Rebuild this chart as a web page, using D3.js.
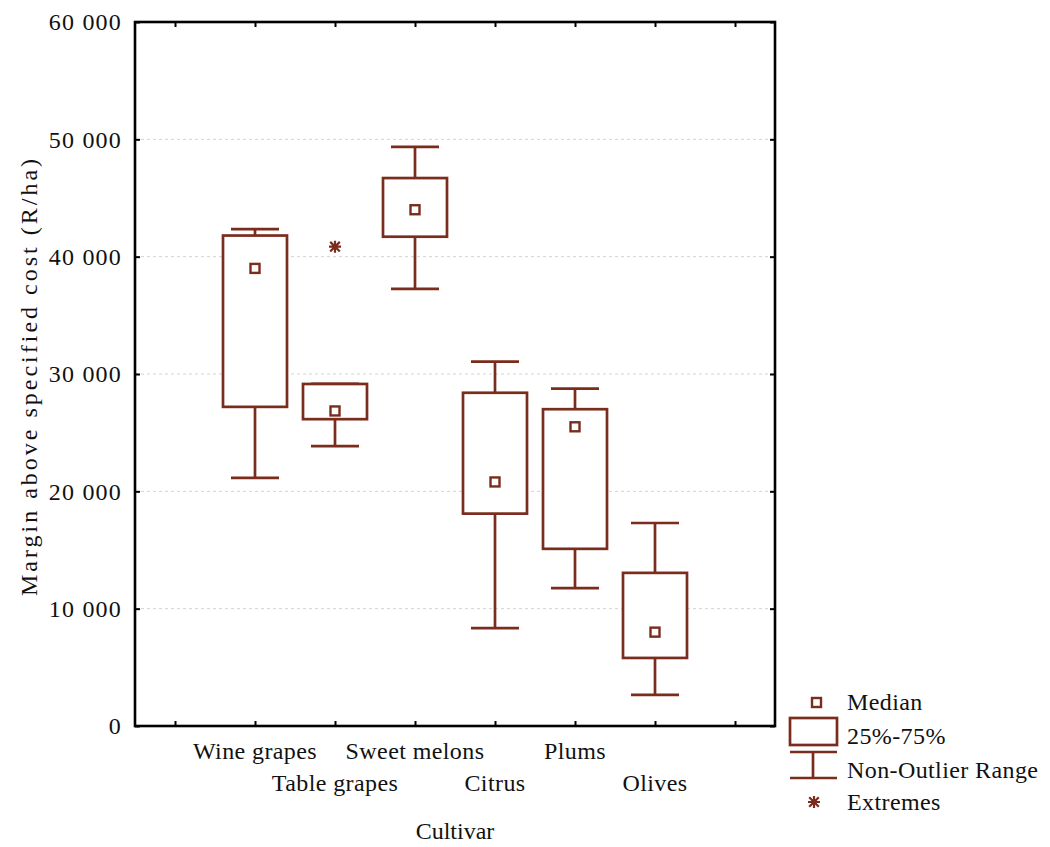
<!DOCTYPE html>
<html>
<head>
<meta charset="utf-8">
<script src="https://cdn.jsdelivr.net/npm/d3@7"></script>
<style>
  body { margin: 0; background: #ffffff; }
  text { font-family: "Liberation Serif", "Times New Roman", serif; fill: #111; }
</style>
</head>
<body>
<div id="boxchartdiv"></div>
<script>
// values (R/ha)
const cultivars = ["Wine grapes", "Table grapes", "Sweet melons", "Citrus", "Plums", "Olives"];
const medians     = [39000, 26850, 44000, 20800, 25500, 8000];
const q25         = [27200, 26150, 41700, 18100, 15100, 5800];
const q75         = [41800, 29150, 46700, 28400, 27000, 13050];
const whiskerLow  = [21150, 23850, 37250, 8350, 11750, 2650];
const whiskerHigh = [42350, 29150, 49350, 31050, 28750, 17300];
const extremes    = [{cultivar: "Table grapes", value: 40850}];
const yTicks      = [0, 10000, 20000, 30000, 40000, 50000, 60000];
const legendItems = ["Median", "25%-75%", "Non-Outlier Range", "Extremes"];

const boxColor = "#7a2c1d";
const W = 1050, H = 847;
let margin = {top: 22, left: 135, right: 275, bottom: 121};

let svg = d3.select("#boxchartdiv").append("svg")
            .attr("width", W)
            .attr("height", H);

// blank slot at each end, like the original axis
let slots = ["_start", ...cultivars, "_end"];
let x = d3.scalePoint()
          .domain(slots)
          .range([margin.left, W - margin.right])
          .padding(0.5);

let y = d3.scaleLinear()
          .domain([0, 60000])
          .range([H - margin.bottom, margin.top]);

const fmt = d => d3.format(",")(d).replace(",", " ");

// grid lines
svg.append("g")
   .selectAll("line")
   .data(yTicks.filter(d => d > 0 && d < 60000))
   .enter()
   .append("line")
   .attr("x1", margin.left)
   .attr("x2", W - margin.right)
   .attr("y1", d => y(d))
   .attr("y2", d => y(d))
   .attr("stroke", "#d2d2d2")
   .attr("stroke-width", 1)
   .attr("stroke-dasharray", "3,3");

// axes with inward ticks
let leftAxis = svg.append("g")
   .attr("transform", `translate(${margin.left},0)`)
   .call(d3.axisLeft(y).tickValues(yTicks).tickSize(-5).tickPadding(13).tickFormat(fmt));
leftAxis.selectAll("text")
   .style("font-size", "24px")
   .style("letter-spacing", "1.2px")
   .attr("dy", "0.33em");

svg.append("g")
   .attr("transform", `translate(${W - margin.right},0)`)
   .call(d3.axisRight(y).tickValues(yTicks).tickSize(-5).tickFormat(""));

svg.append("g")
   .attr("transform", `translate(0,${H - margin.bottom})`)
   .call(d3.axisBottom(x).tickSize(-5).tickFormat(""));

svg.append("g")
   .attr("transform", `translate(0,${margin.top})`)
   .call(d3.axisTop(x).tickSize(-5).tickFormat(""));

svg.selectAll(".domain").remove();
svg.selectAll(".tick line").attr("stroke", "#000").attr("stroke-width", 2);

// frame
svg.append("rect")
   .attr("x", margin.left)
   .attr("y", margin.top)
   .attr("width", W - margin.right - margin.left)
   .attr("height", H - margin.bottom - margin.top)
   .attr("fill", "none")
   .attr("stroke", "#000")
   .attr("stroke-width", 2.6);

// category labels, staggered on two rows
svg.append("g")
   .selectAll("text")
   .data(cultivars)
   .enter()
   .append("text")
   .attr("x", d => x(d))
   .attr("y", (d, i) => i % 2 == 0 ? 759 : 791)
   .attr("text-anchor", "middle")
   .style("font-size", "24px")
   .style("letter-spacing", "0.4px")
   .text(d => d);

// axis titles
svg.append("text")
   .attr("x", (margin.left + W - margin.right) / 2)
   .attr("y", 839)
   .attr("text-anchor", "middle")
   .style("font-size", "24px")
   .text("Cultivar");

svg.append("text")
   .attr("transform", `translate(37, ${(margin.top + H - margin.bottom) / 2 + 2}) rotate(-90)`)
   .attr("text-anchor", "middle")
   .style("font-size", "24px")
   .style("letter-spacing", "3px")
   .text("Margin above specified cost (R/ha)");

// boxes
let boxW = x.step() * 0.8;
let capW = x.step() * 0.6;
let boxes = svg.append("g")
   .selectAll("g")
   .data(cultivars)
   .enter()
   .append("g")
   .attr("stroke", boxColor)
   .attr("stroke-width", 2.7)
   .attr("fill", "none");

// whiskers
boxes.append("line")
   .attr("x1", d => x(d)).attr("x2", d => x(d))
   .attr("y1", (d, i) => y(whiskerHigh[i]))
   .attr("y2", (d, i) => y(q75[i]));
boxes.append("line")
   .attr("x1", d => x(d)).attr("x2", d => x(d))
   .attr("y1", (d, i) => y(q25[i]))
   .attr("y2", (d, i) => y(whiskerLow[i]));
boxes.append("line")
   .attr("x1", d => x(d) - capW / 2).attr("x2", d => x(d) + capW / 2)
   .attr("y1", (d, i) => y(whiskerHigh[i]))
   .attr("y2", (d, i) => y(whiskerHigh[i]));
boxes.append("line")
   .attr("x1", d => x(d) - capW / 2).attr("x2", d => x(d) + capW / 2)
   .attr("y1", (d, i) => y(whiskerLow[i]))
   .attr("y2", (d, i) => y(whiskerLow[i]));

boxes.append("rect")
   .attr("x", d => x(d) - boxW / 2)
   .attr("y", (d, i) => y(q75[i]))
   .attr("width", boxW)
   .attr("height", (d, i) => y(q25[i]) - y(q75[i]))
   .attr("fill", "#fff");

// median squares
boxes.append("rect")
   .attr("x", d => x(d) - 4.5)
   .attr("y", (d, i) => y(medians[i]) - 4.5)
   .attr("width", 9)
   .attr("height", 9)
   .attr("stroke-width", 2.4)
   .attr("fill", "#fff");

// asterisk marker
function star(g, cx, cy, r) {
  g.append("path")
   .attr("d", `M${cx - r},${cy}H${cx + r}M${cx},${cy - r}V${cy + r}` +
              `M${cx - r * 0.8},${cy - r * 0.8}L${cx + r * 0.8},${cy + r * 0.8}` +
              `M${cx - r * 0.8},${cy + r * 0.8}L${cx + r * 0.8},${cy - r * 0.8}`)
   .attr("stroke", boxColor)
   .attr("stroke-width", 2.2)
   .attr("fill", "none");
}

let extG = svg.append("g");
extremes.forEach(e => star(extG, x(e.cultivar), y(e.value), 6));

// legend
let lg = svg.append("g")
   .attr("stroke", boxColor)
   .attr("stroke-width", 2.7)
   .attr("fill", "none");
lg.append("rect").attr("x", 812).attr("y", 698).attr("width", 9).attr("height", 9).attr("stroke-width", 2.4);
lg.append("rect").attr("x", 790).attr("y", 718).attr("width", 47).attr("height", 27);
lg.append("line").attr("x1", 790).attr("x2", 837).attr("y1", 752).attr("y2", 752);
lg.append("line").attr("x1", 813).attr("x2", 813).attr("y1", 752).attr("y2", 778);
lg.append("line").attr("x1", 790).attr("x2", 837).attr("y1", 778).attr("y2", 778);
star(lg, 814, 802, 6);

svg.append("g")
   .selectAll("text")
   .data(legendItems)
   .enter()
   .append("text")
   .attr("x", 847)
   .attr("y", (d, i) => [710, 744, 778, 810][i])
   .style("font-size", "24px")
   .style("letter-spacing", "0.4px")
   .text(d => d);
</script>
</body>
</html>
